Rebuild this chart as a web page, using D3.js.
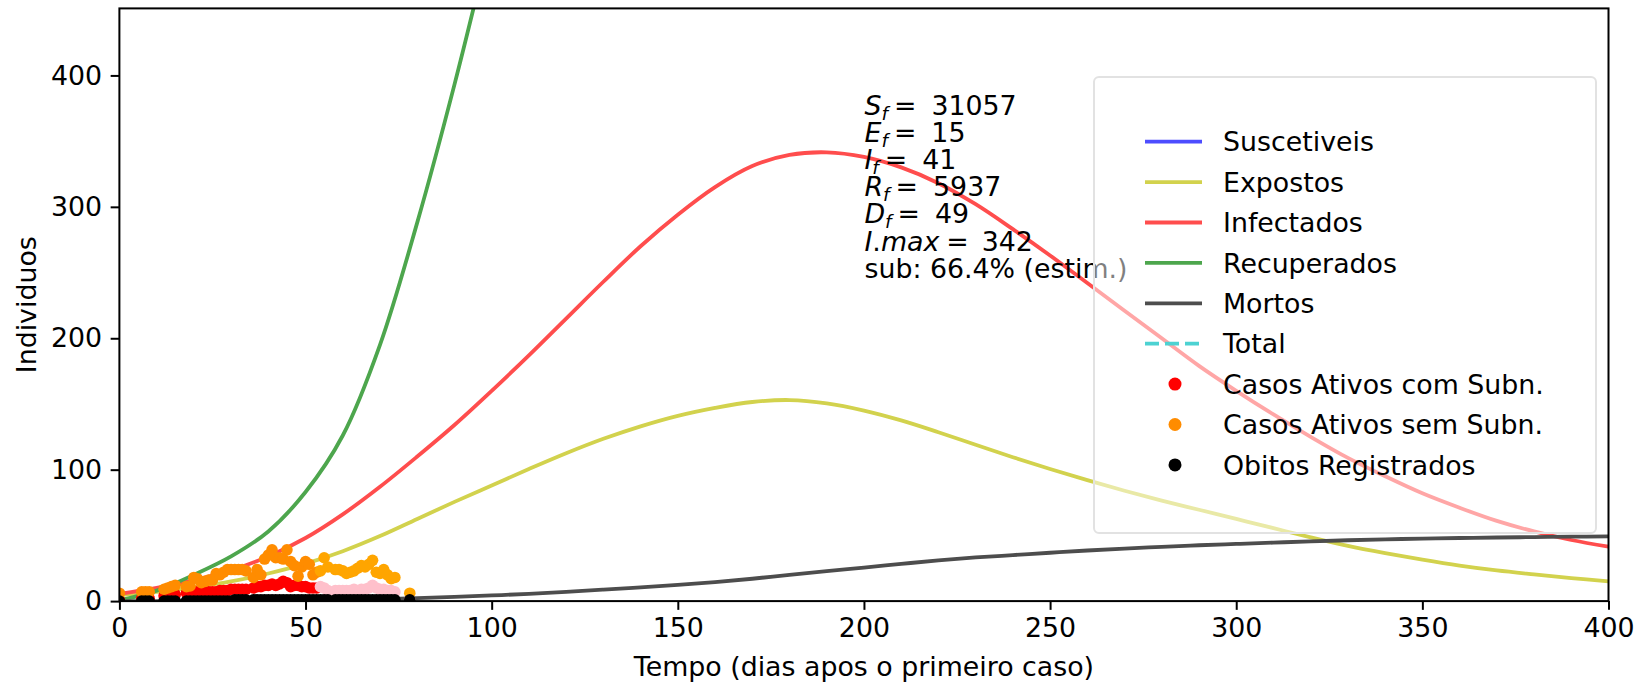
<!DOCTYPE html>
<html><head><meta charset="utf-8">
<script src="https://cdn.jsdelivr.net/npm/d3@7"></script>
<style>body{margin:0;background:#fff} text{font-family:"DejaVu Sans",sans-serif}</style>
</head><body><svg id="c" width="1642" height="687"></svg>
<script>
// ---- model curves (sampled every 10 days) ----
const tempoModelo = [0,10,20,30,40,50,60,70,80,90,100,110,120,130,140,150,160,170,180,190,200,210,220,230,240,250,260,270,280,290,300,310,320,330,340,350,360,370,380,390,400];
const expostos = [4.5,7,10.5,15,21,28.5,38,49.5,62.5,75.5,88,100.5,112.5,123.5,133,141,147,151.5,153,150.5,145,137.5,128.5,119,109.5,100.5,92,84,76.5,69.5,62.5,55.5,48.5,42,36.5,31.5,27,23.3,20.3,17.5,15];
const infectados = [5.5,10,16,23.5,34,48,66,87,110,134,160,187,215,243,270,294,315,331,339.5,341.5,338,330,318,302,283,263,242,221,200,179,160,142,125,109,95,82,71,61,53,46.5,41.5];
const mortos = [0,0,0.1,0.2,0.4,0.6,1,1.5,2.3,3.2,4.3,5.5,7,8.7,10.5,12.4,14.5,17,20,22.8,25.5,28.3,31,33.2,35,36.8,38.5,40,41.3,42.5,43.5,44.5,45.5,46.3,47,47.5,48,48.4,48.7,49,49.2];
const tempoRecuperados = [0,10,20,30,40,50,60,70,80,90,100];
const recuperados = [0.5,8,20,34,53,83,126,195,288,393,508];

// ---- observed data ----
const dias = [0,6,7,8,12,13,14,15,18,19,20,21,22,23,24,25,26,27,28,29,30,31,32,33,34,36,37,38,39,40,41,42,43,44,45,46,47,48,49,50,51,52,53,54,55,56,58,59,60,61,62,63,64,65,66,67,68,69,70,71,72,73,74,78];
const ativosComSub = [1,2,2,2,4,4,4,5,6,6,7,7,7,7,7,7,7,8,8,8,9,9,9,9,9,10,11,11,12,12,13,12,13,15,14,11,12,12,11,11,10,10,10,11,10,8,8,8,8,8,8,9,8,9,9,10,12,10,9,9,8,8,7,1];
const ativosSemSub = [6,7,7,7,9,10,11,12,11,11.5,18,17,14,15,16,16,21,20,22,24,24,24,24,24,23,18,24,20,32,35,39,33,33,32,39,30,27,19,26,30,28,20,22,23,33,26,24,24,23,21,22,23,25,27,26,28,31,22,21,24,20,17,18,6];
const obitos = [0,0,0,0,0,0,0,0,0,0,0,0,0,0,0,0,0,0,0,0,0,1,1,1,1,1,1,1,1,1,1,1,1,1,1,1,1,1,1,1,1,1,1,1,1,1,1,1,1,1,1,1,1,1,1,1,1,1,1,1,1,1,1,1];
const diaCorte = 54;

// ---- ticks / labels ----
const xTicks = [0,50,100,150,200,250,300,350,400];
const yTicks = [0,100,200,300,400];
const legendaLinhas = ["Suscetiveis","Expostos","Infectados","Recuperados","Mortos","Total"];
const legendaPontos = ["Casos Ativos com Subn.","Casos Ativos sem Subn.","Obitos Registrados"];
const anotacoes = [["S","f","31057"],["E","f","15"],["I","f","41"],["R","f","5937"],["D","f","49"]];
const iMax = "342";
const subTexto = "sub: 66.4% (estim.)";

const svg = d3.select("#c");
const L = 119.4, R = 1608.5, T = 8.4, B = 601.1;
const x = d3.scaleLinear([0,400],[L,R]);
const y = d3.scaleLinear([0,451],[B,T]);

svg.append("defs").append("clipPath").attr("id","clip")
  .append("rect").attr("x",L).attr("y",T).attr("width",R-L).attr("height",B-T);

const g = svg.append("g").attr("clip-path","url(#clip)");
const lw = 3.8;
const colors = {S:"#4d4dff",E:"#d2d24d",I:"#ff4d4d",R:"#4da64d",D:"#4d4d4d",N:"#4dd2d2"};

function curve(xs, ys, col){
  const line = d3.line().x((d,i)=>x(xs[i])).y(d=>y(d)).curve(d3.curveCatmullRom.alpha(0.5));
  g.append("path").attr("d",line(ys)).attr("fill","none").attr("stroke",col).attr("stroke-width",lw);
}
curve(tempoModelo, expostos, colors.E);
curve(tempoModelo, infectados, colors.I);
curve(tempoRecuperados, recuperados, colors.R);
curve(tempoModelo, mortos, colors.D);

const r = 5.8;
function pts(vals, c1, c2){
  g.selectAll(null).data(vals).enter().append("circle")
    .attr("cx",(d,i)=>x(dias[i])).attr("cy",d=>y(d)).attr("r",r)
    .attr("fill",(d,i)=>dias[i] >= diaCorte ? c2 : c1);
}
pts(ativosComSub, "#ff0000", "#ffc0cb");
pts(ativosSemSub, "#ff8c00", "#ffa500");
pts(obitos, "#000000", "#000000");

// axes
const fs = 26.8;
const ax = svg.append("g").attr("transform",`translate(0,${B})`)
  .call(d3.axisBottom(x).tickValues(xTicks).tickSize(8.75).tickPadding(8.5));
const ay = svg.append("g").attr("transform",`translate(${L},0)`)
  .call(d3.axisLeft(y).tickValues(yTicks).tickSize(8.75).tickPadding(8.5));
[ax,ay].forEach(a=>{
  a.select(".domain").remove();
  a.selectAll("line").attr("stroke","#000").attr("stroke-width",2);
  a.selectAll("text").attr("font-size",fs).attr("fill","#000").attr("font-family","DejaVu Sans");
});
svg.append("rect").attr("x",L).attr("y",T).attr("width",R-L).attr("height",B-T)
  .attr("fill","none").attr("stroke","#000").attr("stroke-width",2);

svg.append("text").attr("x",(L+R)/2).attr("y",676).attr("text-anchor","middle")
  .attr("font-size",fs).text("Tempo (dias apos o primeiro caso)");
svg.append("text").attr("transform",`translate(36,${(T+B)/2}) rotate(-90)`).attr("text-anchor","middle")
  .attr("font-size",fs).text("Individuos");

// annotation
const ax0 = x(200) + 0.5, by0 = 115, dl = 27.1;
anotacoes.forEach((a,i)=>{
  const t = svg.append("text").attr("x",ax0).attr("y",by0+i*dl).attr("font-size",fs);
  t.append("tspan").attr("font-style","italic").text(a[0]);
  t.append("tspan").attr("font-style","italic").attr("font-size",18.5).attr("dy",5).text(a[1]);
  t.append("tspan").attr("dy",-5).attr("dx",6).text("=");
  t.append("tspan").attr("dx",15).text(a[2]);
});
{
  const t = svg.append("text").attr("x",ax0).attr("y",by0+5*dl).attr("font-size",fs);
  t.append("tspan").attr("font-style","italic").text("I");
  t.append("tspan").text(".");
  t.append("tspan").attr("font-style","italic").text("max");
  t.append("tspan").attr("dx",7).text("=");
  t.append("tspan").attr("dx",13).text(iMax);
  svg.append("text").attr("x",ax0).attr("y",by0+6*dl).attr("font-size",fs).text(subTexto);
}

// legend
const lg = svg.append("g");
lg.append("rect").attr("x",1094).attr("y",77).attr("width",502).attr("height",456).attr("rx",5)
  .attr("fill","#fff").attr("fill-opacity",0.5).attr("stroke","#e2e2e2").attr("stroke-width",2);
const ly0 = 141.7, ld = 40.4;
const lineCols = [colors.S,colors.E,colors.I,colors.R,colors.D,colors.N];
legendaLinhas.forEach((n,i)=>{
  const yy = ly0 + i*ld;
  lg.append("line").attr("x1",1145).attr("x2",1202).attr("y1",yy).attr("y2",yy)
    .attr("stroke",lineCols[i]).attr("stroke-width",lw)
    .attr("stroke-dasharray", i===5 ? "14,6" : null);
  lg.append("text").attr("x",1223).attr("y",yy).attr("dy","0.36em").attr("font-size",fs).text(n);
});
const ptCols = ["#ff0000","#ff8c00","#000000"];
legendaPontos.forEach((n,i)=>{
  const yy = ly0 + (6+i)*ld;
  lg.append("circle").attr("cx",1175).attr("cy",yy).attr("r",6.5).attr("fill",ptCols[i]);
  lg.append("text").attr("x",1223).attr("y",yy).attr("dy","0.36em").attr("font-size",fs).text(n);
});
</script></body></html>
